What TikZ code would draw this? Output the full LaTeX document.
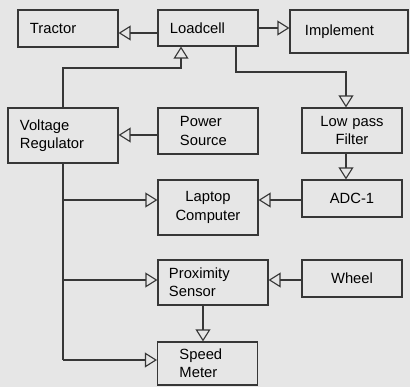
\documentclass[tikz,border=0pt]{standalone}
\usepackage{fontspec}
\setmainfont{Liberation Sans}
\usetikzlibrary{arrows.meta, positioning}
\definecolor{InkDark}{RGB}{55,55,55}
\definecolor{ScanGray}{RGB}{230,230,230}

\begin{document}
\begin{tikzpicture}[x=0.025cm, y=-0.025cm,
    blk/.style={draw=InkDark, line width=0.8pt, fill=ScanGray,
                font=\fontsize{10.5}{13}\selectfont, inner ysep=2pt},
    wire/.style={draw=InkDark, line width=0.8pt},
    ar/.style={wire, -{Triangle[open,length=8.5pt,width=10.5pt]}}
  ]
  \fill[ScanGray] (0,0) rectangle (410,387);
  \useasboundingbox (0,0) rectangle (410,387);

  % top row
  \node[blk, text width=1.9cm, inner xsep=0.3cm, align=left,
        minimum height=0.925cm] (tractor) at (68,28.5) {Tractor};
  \node[blk, text width=1.9cm, inner xsep=0.3cm, align=left,
        minimum height=0.9cm] (loadcell) at (208,28) {Loadcell};
  \node[blk, text width=2.2cm, inner xsep=0.375cm, align=left,
        minimum height=1.075cm] (implement) at (349,31.5) {Implement};

  % second row
  \node[blk, text width=2.15cm, inner xsep=0.3cm, align=left,
        minimum height=1.375cm] (voltage) at (63,135.5) {Voltage\\Regulator};
  \node[blk, text width=1.4cm, inner xsep=0.55cm, align=left,
        minimum height=1.15cm] (power) at (208,131) {Power\\Source};
  \node[blk, text width=2.1cm, inner xsep=0.2cm, align=center,
        minimum height=1.125cm] (lowpass) at (352,130.5) {Low pass\\Filter};

  % third row
  \node[blk, text width=2.1cm, inner xsep=0.2cm, align=center,
        minimum height=1.375cm] (laptop) at (208,207.5) {Laptop\\Computer};
  \node[blk, text width=2.1cm, inner xsep=0.2cm, align=center,
        minimum height=0.925cm] (adc) at (352,198.5) {ADC-1};

  % speed measurement
  \node[blk, text width=2.2cm, inner xsep=0.275cm, align=left,
        minimum height=1.125cm] (proximity) at (213,282.5) {Proximity\\Sensor};
  \node[blk, text width=2.1cm, inner xsep=0.2cm, align=center,
        minimum height=0.925cm] (wheel) at (352,278.5) {Wheel};
  \node[blk, text width=1.4cm, inner xsep=0.55cm, align=left,
        minimum height=1.075cm] (speed) at (207.5,363.5) {Speed\\Meter};

  % connectors
  \draw[ar] (loadcell.west |- 0,33) -- (tractor.east |- 0,33);
  \draw[ar] (loadcell.east) -- (implement.west |- loadcell.east);
  \draw[ar] (voltage.north) |- (181,68) -- (loadcell.south -| 181,0);
  \draw[ar] (loadcell.south -| 236,0) |- (346,72) -- (lowpass.north -| 346,0);
  \draw[ar] (power.west |- 0,135) -- (voltage.east |- 0,135);
  \draw[ar] (lowpass.south -| 346,0) -- (adc.north -| 346,0);
  \draw[ar] (adc.west |- 0,200) -- (laptop.east |- 0,200);
  \draw[wire] (voltage.south) -- (voltage.south |- 0,360);
  \draw[ar] (voltage.south |- 0,200) -- (laptop.west |- 0,200);
  \draw[ar] (voltage.south |- 0,280) -- (proximity.west |- 0,280);
  \draw[ar] (voltage.south |- 0,360) -- (speed.west |- 0,360);
  \draw[ar] (wheel.west |- 0,280) -- (proximity.east |- 0,280);
  \draw[ar] (proximity.south -| 203,0) -- (speed.north -| 203,0);
\end{tikzpicture}
\end{document}
